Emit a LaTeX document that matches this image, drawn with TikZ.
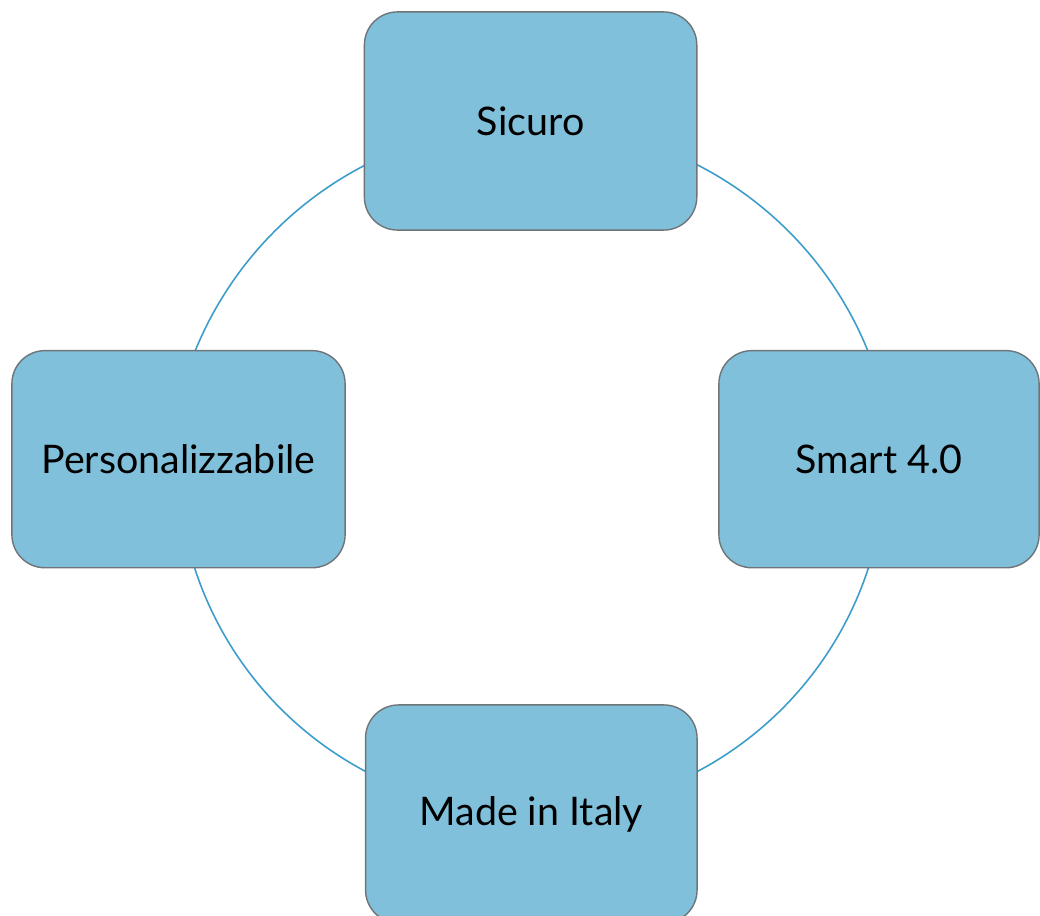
\documentclass[tikz,border=0pt]{standalone}
\usepackage{fontspec}
\setmainfont{Lato}
\definecolor{boxfill}{HTML}{80C0DA}
\definecolor{boxline}{HTML}{6E7478}
\definecolor{ringline}{HTML}{3C9CCB}
\begin{document}
\begin{tikzpicture}[x=0.01cm,y=-0.01cm,
  cyclebox/.style={draw=boxline,line width=0.4pt,fill=boxfill,rounded corners=0.33cm,
    inner sep=0pt,font=\fontsize{11.2}{13}\selectfont},
  ring/.style={draw=ringline,line width=0.45pt}]
\useasboundingbox (0,0) rectangle (1040,916);
% ring arcs (behind the boxes)
\coordinate (ctop) at (531.5,488);
\coordinate (cbot) at (531.5,458.5);
\draw[ring] ([shift={(18:3.63cm)}]ctop) arc[start angle=18,end angle=162,radius=3.63cm];
\draw[ring] ([shift={(194:3.54cm)}]cbot) arc[start angle=194,end angle=346,radius=3.54cm];
% boxes
\node[cyclebox,minimum width=3.322cm,minimum height=2.18cm] (sicuro) at (530.6,121) {Sicuro};
\node[cyclebox,minimum width=3.33cm,minimum height=2.17cm] (pers) at (178.5,459.2) {Personalizzabile};
\node[cyclebox,minimum width=3.20cm,minimum height=2.17cm] (smart) at (879,459.2) {Smart 4.0};
\node[cyclebox,minimum width=3.313cm,minimum height=2.18cm] (made) at (531.3,814) {Made in Italy};
\end{tikzpicture}
\end{document}
